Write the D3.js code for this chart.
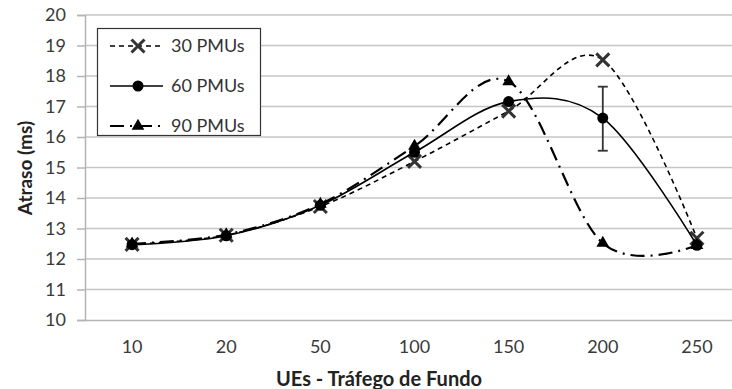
<!DOCTYPE html>
<html>
<head>
<meta charset="utf-8">
<script src="https://cdn.jsdelivr.net/npm/d3@7"></script>
<style>
  body { margin: 0; background: #fff; }
  svg { display: block; font-family: Lato, "Open Sans", sans-serif; }
</style>
</head>
<body>
<div id="chart"></div>
<script>
// Categories and values
var categories = ["10", "20", "50", "100", "150", "200", "250"];
var pmu30 = [12.48, 12.78, 13.72, 15.2, 16.85, 18.53, 12.68];
var pmu60 = [12.47, 12.76, 13.76, 15.5, 17.16, 16.62, 12.45];
var pmu90 = [12.5, 12.8, 13.8, 15.7, 17.82, 12.52, 12.45];
var seriesNames = ["30 PMUs", "60 PMUs", "90 PMUs"];
var yTicks = [10, 11, 12, 13, 14, 15, 16, 17, 18, 19, 20];
// error bar on 60 PMUs at 200
var errCategory = "200";
var errLow = 15.55, errHigh = 17.65;

var svgWidth = 732;
var svgHeight = 389;

var margin = { top: 15, right: 0, bottom: 69, left: 85 };
var plotWidth = 659;           // chart is cut off on the right in the original
var plotHeight = svgHeight - margin.top - margin.bottom;

var svg = d3.select("#chart")
    .append("svg")
    .attr("width", svgWidth)
    .attr("height", svgHeight);

var chartGroup = svg.append("g")
    .attr("transform", `translate(${margin.left}, ${margin.top})`);

var xScale = d3.scaleBand()
    .domain(categories)
    .range([0, plotWidth]);

var yScale = d3.scaleLinear()
    .domain([10, 20])
    .range([plotHeight, 0]);

var cx = d => xScale(d) + xScale.bandwidth() / 2;

// gridlines
chartGroup.selectAll(".grid")
    .data(yTicks.slice(1))
    .enter()
    .append("line")
    .attr("x1", 0)
    .attr("x2", plotWidth)
    .attr("y1", d => yScale(d))
    .attr("y2", d => yScale(d))
    .attr("stroke", "#c6c6c6")
    .attr("stroke-width", 1.5);

// y axis
var yAxis = d3.axisLeft(yScale).tickValues(yTicks).tickSize(8).tickPadding(11);
var yG = chartGroup.append("g").call(yAxis);
yG.select(".domain").attr("stroke", "#b4b4b4").attr("stroke-width", 1.5);
yG.selectAll(".tick line").attr("stroke", "#b4b4b4").attr("stroke-width", 1.5);
yG.selectAll("text").attr("font-size", 18).attr("fill", "#3a3a3a")
    .attr("font-family", "Lato, sans-serif");

// x axis
var xAxis = d3.axisBottom(xScale).tickSize(0).tickPadding(20);
var xG = chartGroup.append("g")
    .attr("transform", `translate(0, ${plotHeight})`)
    .call(xAxis);
xG.select(".domain").attr("stroke", "#b4b4b4").attr("stroke-width", 1.5);
xG.selectAll("text").attr("font-size", 18).attr("fill", "#3a3a3a")
    .attr("font-family", "Lato, sans-serif");

// axis titles
svg.append("text")
    .attr("transform", "translate(32, 168) rotate(-90)")
    .attr("text-anchor", "middle")
    .attr("font-size", 19)
    .attr("font-weight", "bold")
    .attr("fill", "#222")
    .text("Atraso (ms)");

svg.append("text")
    .attr("x", 379)
    .attr("y", 386)
    .attr("text-anchor", "middle")
    .attr("font-size", 20)
    .attr("font-weight", "bold")
    .attr("fill", "#222")
    .text("UEs - Tráfego de Fundo");

// series
var styles = [
    { dash: "5,4", width: 1.6 },
    { dash: null, width: 1.6 },
    { dash: "14,6,2,6", width: 2.2 }
];
var allSeries = [pmu30, pmu60, pmu90];

var line = d3.line()
    .x((d, i) => cx(categories[i]))
    .y(d => yScale(d))
    .curve(d3.curveCardinal.tension(0));

function drawMarker(g, kind, x, y) {
    if (kind === 0) {
        var s = 6.5;
        g.append("path")
            .attr("d", `M${x - s},${y - s}L${x + s},${y + s}M${x - s},${y + s}L${x + s},${y - s}`)
            .attr("stroke", "#333").attr("stroke-width", 3).attr("fill", "none");
    } else if (kind === 1) {
        g.append("circle").attr("cx", x).attr("cy", y).attr("r", 5.5).attr("fill", "#000");
    } else {
        g.append("path")
            .attr("d", d3.symbol(d3.symbolTriangle, 70)())
            .attr("transform", `translate(${x}, ${y})`)
            .attr("fill", "#000");
    }
}

allSeries.forEach(function(values, k) {
    chartGroup.append("path")
        .datum(values)
        .attr("d", line)
        .attr("fill", "none")
        .attr("stroke", "#000")
        .attr("stroke-width", styles[k].width)
        .attr("stroke-dasharray", styles[k].dash);

    if (k === 1) {
        var ex = cx(errCategory);
        var eg = chartGroup.append("g").attr("stroke", "#333").attr("stroke-width", 1.8);
        eg.append("line").attr("x1", ex).attr("x2", ex)
            .attr("y1", yScale(errLow)).attr("y2", yScale(errHigh));
        eg.append("line").attr("x1", ex - 5).attr("x2", ex + 5)
            .attr("y1", yScale(errLow)).attr("y2", yScale(errLow));
        eg.append("line").attr("x1", ex - 5).attr("x2", ex + 5)
            .attr("y1", yScale(errHigh)).attr("y2", yScale(errHigh));
    }

    var mg = chartGroup.append("g");
    values.forEach(function(v, i) {
        drawMarker(mg, k, cx(categories[i]), yScale(v));
    });
});

// legend
var legend = svg.append("g");
legend.append("rect")
    .attr("x", 97.5)
    .attr("y", 28.5)
    .attr("width", 163)
    .attr("height", 107)
    .attr("fill", "#fff")
    .attr("stroke", "#333")
    .attr("stroke-width", 1.2);

seriesNames.forEach(function(name, k) {
    var ly = 46 + k * 40;
    legend.append("line")
        .attr("x1", 110).attr("x2", 163)
        .attr("y1", ly).attr("y2", ly)
        .attr("stroke", "#000")
        .attr("stroke-width", styles[k].width)
        .attr("stroke-dasharray", styles[k].dash);
    drawMarker(legend, k, 138, ly);
    legend.append("text")
        .attr("x", 171)
        .attr("y", ly + 6)
        .attr("font-size", 18)
        .attr("fill", "#333")
        .text(name);
});
</script>
</body>
</html>
